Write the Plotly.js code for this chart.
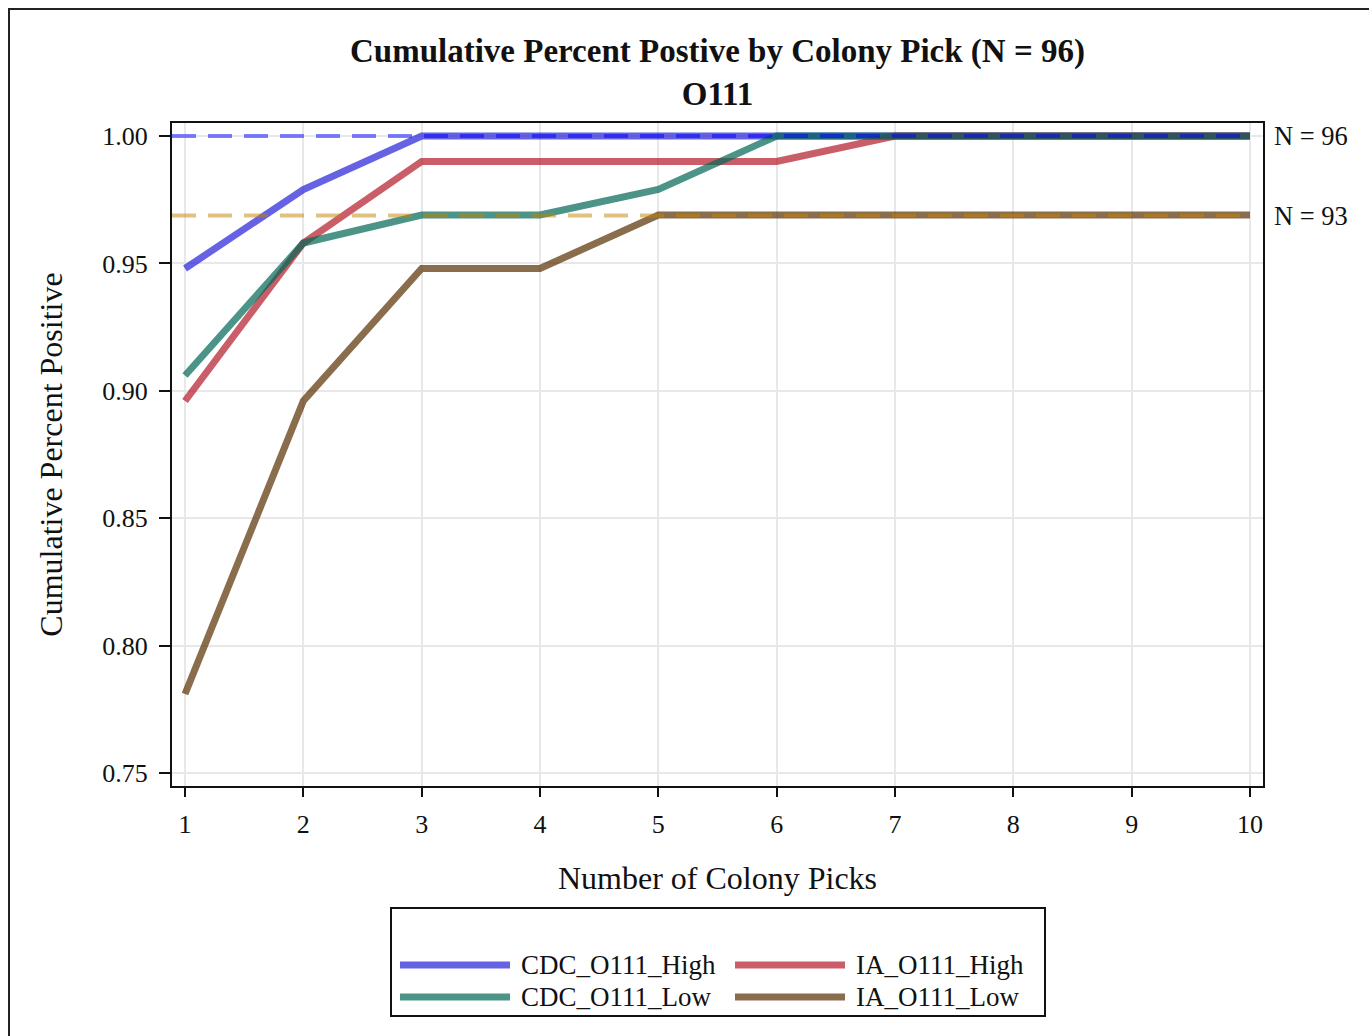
<!DOCTYPE html>
<html>
<head>
<meta charset="utf-8">
<script src="https://cdn.plot.ly/plotly-3.0.1.min.js"></script>
<style>
  html, body { margin: 0; padding: 0; background: #fff; }
  #wrap { position: relative; width: 1369px; height: 1036px; overflow: hidden; }
  #frame { position: absolute; left: 8px; top: 8px; width: 1400px; height: 1100px; border: 2px solid #222; box-sizing: border-box; pointer-events: none; }
  #chart { position: absolute; left: 0; top: 0; width: 1369px; height: 1036px; }
</style>
</head>
<body>
<div id="wrap">
  <div id="chart"></div>
  <div id="frame"></div>
</div>
<script>
// ---- data ----
const picks = [1, 2, 3, 4, 5, 6, 7, 8, 9, 10];
const seriesNames = ["CDC_O111_High", "IA_O111_High", "CDC_O111_Low", "IA_O111_Low"];
const cdcHigh = [0.948, 0.979, 1.000, 1.000, 1.000, 1.000, 1.000, 1.000, 1.000, 1.000];
const iaHigh  = [0.896, 0.958, 0.990, 0.990, 0.990, 0.990, 1.000, 1.000, 1.000, 1.000];
const cdcLow  = [0.906, 0.958, 0.969, 0.969, 0.979, 1.000, 1.000, 1.000, 1.000, 1.000];
const iaLow   = [0.781, 0.896, 0.948, 0.948, 0.969, 0.969, 0.969, 0.969, 0.969, 0.969];
const refValues = [1.000, 0.96875];
const refLabels = ["N = 96", "N = 93"];
const yTicks = [0.75, 0.80, 0.85, 0.90, 0.95, 1.00];
const yTickText = ["0.75", "0.80", "0.85", "0.90", "0.95", "1.00"];

const seriesValues = [cdcHigh, iaHigh, cdcLow, iaLow];
const seriesColors = ["rgba(36,32,216,0.7)", "rgba(178,25,42,0.7)", "rgba(0,102,84,0.7)", "rgba(88,47,0,0.7)"];
const refColors = ["rgba(0,0,255,0.5)", "rgba(196,132,0,0.5)"];

const FONT = "Liberation Serif, Times New Roman, serif";

const traces = seriesValues.map((vals, i) => ({
  x: picks, y: vals, name: seriesNames[i], type: "scatter", mode: "lines",
  line: { color: seriesColors[i], width: 7 }, showlegend: false,
  hoverinfo: "x+y+name"
}));
refValues.forEach((v, i) => {
  traces.push({
    x: [picks[0] - 0.11, picks[picks.length - 1]], y: [v, v], type: "scatter", mode: "lines",
    line: { color: refColors[i], width: 4, dash: "24px,12px" }, showlegend: false,
    hoverinfo: "skip"
  });
});

// ---- custom legend (paper coordinates) ----
const px2x = p => (p - 172) / 1091;
const px2y = p => (786 - p) / 663;
const shapes = [{
  type: "rect", xref: "paper", yref: "paper",
  x0: px2x(391), x1: px2x(1045), y0: px2y(1016), y1: px2y(908),
  line: { color: "#111", width: 2 }, fillcolor: "rgba(0,0,0,0)"
}];
const annotations = [];
const legPos = [[400, 965], [735, 965], [400, 997], [735, 997]];
const legOrder = [0, 1, 2, 3];
legOrder.forEach((si, k) => {
  const [lx, ly] = legPos[k];
  shapes.push({
    type: "line", xref: "paper", yref: "paper",
    x0: px2x(lx), x1: px2x(lx + 110), y0: px2y(ly), y1: px2y(ly),
    line: { color: seriesColors[si], width: 7 }
  });
  annotations.push({
    xref: "paper", yref: "paper", x: px2x(lx + 119), y: px2y(ly),
    xanchor: "left", yanchor: "middle", showarrow: false,
    text: seriesNames[si], font: { family: FONT, size: 27, color: "#111" }
  });
});
refValues.forEach((v, i) => {
  annotations.push({
    xref: "paper", yref: "y", x: 1.008, y: v, xanchor: "left", yanchor: "middle",
    showarrow: false, text: refLabels[i], font: { family: FONT, size: 26.5, color: "#111" }
  });
});

const layout = {
  width: 1369, height: 1036,
  margin: { l: 172, r: 106, t: 123, b: 250 },
  paper_bgcolor: "#fff", plot_bgcolor: "#fff",
  font: { family: FONT, color: "#111" },
  title: {
    text: "<b>Cumulative Percent Postive by Colony Pick (N = 96)</b><br><b>O111</b>",
    font: { family: FONT, size: 33, color: "#111" },
    x: 0.5, xref: "paper", y: 1 - 62 / 1036, yref: "container", yanchor: "top"
  },
  xaxis: {
    range: [0.89, 10.11], tickvals: picks, ticktext: picks.map(String),
    showgrid: true, gridcolor: "#e8e8e8", gridwidth: 1.5, zeroline: false,
    showline: true, linecolor: "#111", linewidth: 2, mirror: true,
    ticks: "outside", ticklen: 9, tickwidth: 2, tickcolor: "#111",
    ticklabelstandoff: 5,
    tickfont: { family: FONT, size: 26, color: "#111" },
    title: { text: "Number of Colony Picks", font: { family: FONT, size: 32, color: "#111" }, standoff: 28 }
  },
  yaxis: {
    range: [0.7449, 1.0051], tickvals: yTicks, ticktext: yTickText,
    showgrid: true, gridcolor: "#e8e8e8", gridwidth: 1.5, zeroline: false,
    showline: true, linecolor: "#111", linewidth: 2, mirror: true,
    ticks: "outside", ticklen: 11, tickwidth: 2, tickcolor: "#111",
    ticklabelstandoff: 6,
    tickfont: { family: FONT, size: 26, color: "#111" },
    title: { text: "Cumulative Percent Positive", font: { family: FONT, size: 32, color: "#111" }, standoff: 30 }
  },
  shapes: shapes,
  annotations: annotations,
  showlegend: false
};

Plotly.newPlot("chart", traces, layout, { displayModeBar: false, responsive: false });
</script>
</body>
</html>
